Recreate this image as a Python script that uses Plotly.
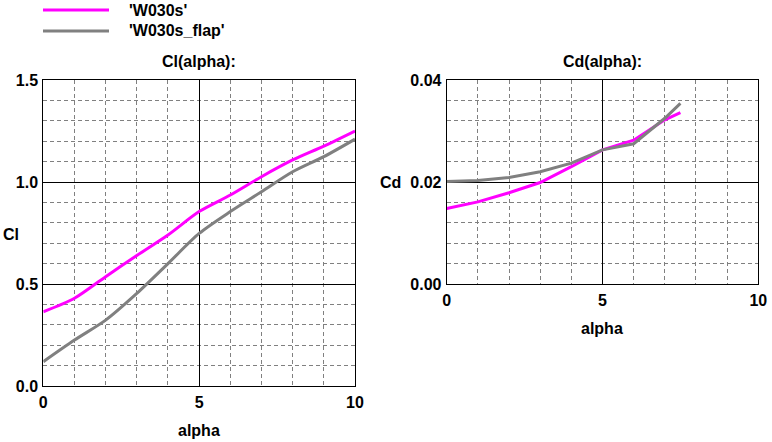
import plotly.graph_objects as go

alpha = [0, 1, 2, 3, 4, 5, 6, 7, 8, 9, 10]
cl_w030s = [0.364, 0.43, 0.536, 0.64, 0.74, 0.855, 0.936, 1.026, 1.108, 1.176, 1.25]
cl_flap = [0.119, 0.225, 0.323, 0.454, 0.60, 0.748, 0.855, 0.952, 1.05, 1.124, 1.21]

alpha_cd = [0, 1, 2, 3, 4, 5, 6, 7, 7.5]
cd_w030s = [0.0148, 0.0161, 0.0179, 0.0199, 0.0230, 0.0263, 0.0282, 0.0322, 0.0336]
cd_flap = [0.0201, 0.0203, 0.0209, 0.0220, 0.0237, 0.0263, 0.0275, 0.0325, 0.0354]

names = ["'W030s'", "'W030s_flap'"]
colors = ["#FF00FF", "#808080"]

W, H = 772, 442
FONT = "Liberation Sans, Arial, sans-serif"

fig = go.Figure()
fig.add_trace(go.Scatter(x=alpha, y=cl_w030s, mode="lines", line=dict(color=colors[0], width=3, shape="spline", smoothing=0.8),
                         xaxis="x", yaxis="y", name=names[0], showlegend=False))
fig.add_trace(go.Scatter(x=alpha, y=cl_flap, mode="lines", line=dict(color=colors[1], width=3, shape="spline", smoothing=0.8),
                         xaxis="x", yaxis="y", name=names[1], showlegend=False))
fig.add_trace(go.Scatter(x=alpha_cd, y=cd_w030s, mode="lines", line=dict(color=colors[0], width=3),
                         xaxis="x2", yaxis="y2", name=names[0], showlegend=False))
fig.add_trace(go.Scatter(x=alpha_cd, y=cd_flap, mode="lines", line=dict(color=colors[1], width=3),
                         xaxis="x2", yaxis="y2", name=names[1], showlegend=False))

tickfont = dict(family=FONT, size=16, color="black", weight="bold")
DASH = "4px,3px"

def xax(domain, anchor):
    return dict(domain=domain, anchor=anchor, range=[0, 10], tickvals=[0, 5, 10],
                ticktext=["0", "5", "10"],
                showgrid=True, gridcolor="black", gridwidth=1,
                minor=dict(dtick=1, showgrid=True, gridcolor="#808080", griddash=DASH, gridwidth=1),
                showline=True, linecolor="black", linewidth=1, mirror=True,
                zeroline=False, tickfont=tickfont, ticks="", ticklabelstandoff=2,
                automargin=False, fixedrange=True)

def yax(domain, anchor, rng, major, minor, fmt):
    return dict(domain=domain, anchor=anchor, range=rng, dtick=major, tick0=0, tickformat=fmt,
                showgrid=True, gridcolor="black", gridwidth=1,
                minor=dict(dtick=minor, tick0=0, showgrid=True, gridcolor="#808080", griddash=DASH, gridwidth=1),
                showline=True, linecolor="black", linewidth=1, mirror=True,
                zeroline=False, tickfont=tickfont, ticks="", ticklabelstandoff=1,
                automargin=False, fixedrange=True)

ytop = 1 - 80 / H
fig.update_layout(
    width=W, height=H, margin=dict(l=0, r=0, t=0, b=0),
    paper_bgcolor="white", plot_bgcolor="white",
    xaxis=xax([43.3 / W, 355 / W], "y"),
    yaxis=yax([1 - 386 / H, ytop], "x", [0, 1.5], 0.5, 0.1, ".1f"),
    xaxis2=xax([446.7 / W, 758.3 / W], "y2"),
    yaxis2=yax([1 - 284 / H, ytop], "x2", [0, 0.04], 0.02, 0.004, ".2f"),
    showlegend=False,
)

def ann(text, x, y, xanchor="center"):
    fig.add_annotation(text=f"<b>{text}</b>", x=x / W, y=1 - y / H, xref="paper", yref="paper",
                       xanchor=xanchor, yanchor="middle", showarrow=False,
                       font=dict(family=FONT, size=16, color="black"))

ann("Cl(alpha):", 199, 62)
ann("Cd(alpha):", 602, 62)
ann("alpha", 199, 430)
ann("alpha", 602, 328)
ann("Cl", 1, 234, "left")
ann("Cd", 378, 182, "left")

# legend
for i, (nm, c) in enumerate(zip(names, colors)):
    yy = 10 + 21 * i
    fig.add_shape(type="line", xref="paper", yref="paper", x0=43 / W, x1=109 / W,
                  y0=1 - yy / H, y1=1 - yy / H, line=dict(color=c, width=3))
    ann(nm, 127, yy, "left")

fig.write_html("out.html")
